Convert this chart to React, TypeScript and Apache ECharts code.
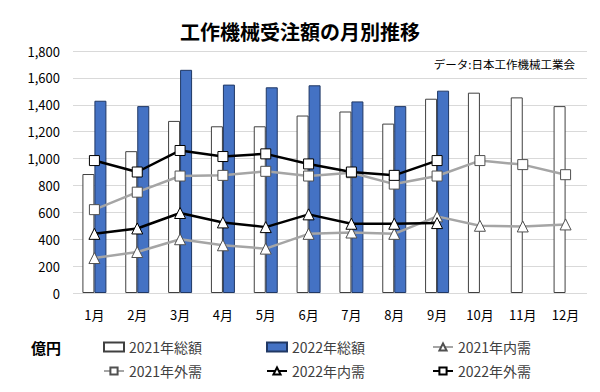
import React, { useEffect, useRef } from "react";
import * as echarts from "echarts";

const months = ["1月", "2月", "3月", "4月", "5月", "6月", "7月", "8月", "9月", "10月", "11月", "12月"];
const total2021 = [885, 1055, 1280, 1240, 1240, 1320, 1350, 1260, 1445, 1490, 1455, 1390];
const total2022 = [1430, 1390, 1660, 1550, 1530, 1545, 1425, 1390, 1505];
const domestic2021 = [260, 305, 400, 355, 330, 440, 450, 440, 570, 500, 495, 510];
const foreign2021 = [620, 750, 870, 875, 905, 870, 895, 810, 870, 985, 955, 880];
const domestic2022 = [440, 480, 595, 525, 490, 585, 515, 515, 520];
const foreign2022 = [985, 900, 1060, 1015, 1035, 960, 900, 875, 985];

const FONT = "'Noto Sans CJK JP', 'Noto Sans', sans-serif";

export default function App() {
  const ref = useRef<HTMLDivElement>(null);
  useEffect(() => {
    if (!ref.current) return;
    const chart = echarts.init(ref.current, null, { renderer: "svg" });
    const lineSeries = (name: string, data: number[], color: string, symbol: string, size: number) => ({
      name,
      type: "line",
      data,
      symbol,
      symbolSize: size,
      lineStyle: { color, width: 2.5 },
      itemStyle: { color: "#ffffff", borderColor: color === "#000000" ? "#000000" : "#505050", borderWidth: 1 },
      z: 5,
    });
    const legendItem = (name: string, left: number, top: number, icon?: string) => ({
      data: icon ? [{ name, icon }] : [name],
      left,
      top,
      itemWidth: 20,
      itemHeight: 9,
      itemGap: 0,
      textStyle: { fontFamily: FONT, fontSize: 14, color: "#404040" },
      padding: 0,
    });
    chart.setOption({
      animation: false,
      textStyle: { fontFamily: FONT },
      title: {
        text: "工作機械受注額の月別推移",
        left: "center",
        top: 16,
        textStyle: { fontFamily: FONT, fontSize: 20, fontWeight: "bold", color: "#000" },
      },
      grid: { left: 73, right: 13, top: 51, bottom: 99 },
      legend: [
        legendItem("2021年総額", 103, 340, "rect"),
        legendItem("2022年総額", 266, 340, "rect"),
        legendItem("2021年内需", 432, 340),
        legendItem("2021年外需", 103, 364),
        legendItem("2022年内需", 266, 364),
        legendItem("2022年外需", 432, 364),
      ],
      graphic: [
        {
          type: "text",
          left: 31,
          top: 340,
          style: { text: "億円", fontFamily: FONT, fontSize: 15, fontWeight: "bold", fill: "#000" },
        },
        {
          type: "text",
          right: 25,
          top: 58,
          style: { text: "データ:日本工作機械工業会", fontFamily: FONT, fontSize: 11.5, fill: "#000" },
        },
      ],
      xAxis: {
        type: "category",
        data: months,
        axisLine: { show: false },
        axisTick: { show: false },
        axisLabel: { fontFamily: FONT, fontSize: 13, color: "#000", margin: 15 },
      },
      yAxis: {
        type: "value",
        min: 0,
        max: 1800,
        interval: 200,
        axisLine: { show: false },
        axisTick: { show: false },
        splitLine: { lineStyle: { color: "#D9D9D9", width: 1 } },
        axisLabel: {
          fontFamily: FONT,
          fontSize: 13,
          color: "#000",
          margin: 13,
          formatter: (v: number) => v.toLocaleString("en-US"),
        },
      },
      series: [
        {
          name: "2021年総額",
          type: "bar",
          data: total2021,
          barWidth: 12,
          barGap: "0%",
          itemStyle: { color: "#ffffff", borderColor: "#404040", borderWidth: 1 },
        },
        {
          name: "2022年総額",
          type: "bar",
          data: total2022,
          barWidth: 12,
          barGap: "0%",
          itemStyle: { color: "#4472C4", borderColor: "#203864", borderWidth: 1 },
        },
        lineSeries("2021年内需", domestic2021, "#A5A5A5", "triangle", 11),
        lineSeries("2021年外需", foreign2021, "#A5A5A5", "rect", 10),
        lineSeries("2022年内需", domestic2022, "#000000", "triangle", 11),
        lineSeries("2022年外需", foreign2022, "#000000", "rect", 10),
      ],
    });
    return () => chart.dispose();
  }, []);
  return <div ref={ref} style={{ width: 600, height: 392, position: "absolute", left: 0, top: 0, background: "#fff" }} />;
}
